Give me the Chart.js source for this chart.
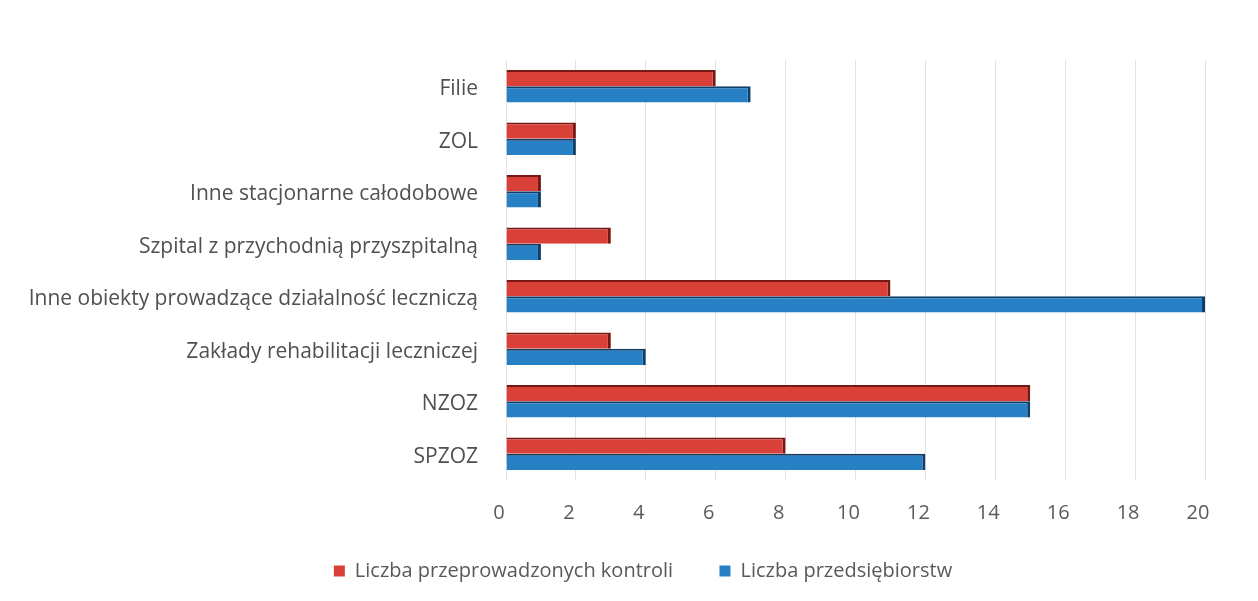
<!DOCTYPE html>
<html>
<head>
<meta charset="utf-8">
<script src="https://cdn.jsdelivr.net/npm/chart.js@4"></script>
<style>
  html, body { margin: 0; padding: 0; background: #fff; }
  #wrap { width: 1258px; height: 601px; }
</style>
</head>
<body>
<div id="wrap"><canvas id="kontrole"></canvas></div>
<script>
// categories top to bottom
categories = ['Filie', 'ZOL', 'Inne stacjonarne całodobowe', 'Szpital z przychodnią przyszpitalną',
  'Inne obiekty prowadzące działalność leczniczą', 'Zakłady rehabilitacji leczniczej', 'NZOZ', 'SPZOZ']
kontrole = [6, 2, 1, 3, 11, 3, 15, 8]
przedsiebiorstwa = [7, 2, 1, 1, 20, 4, 15, 12]
xTicks = [0, 2, 4, 6, 8, 10, 12, 14, 16, 18, 20]

var txtFont = { family: 'Open Sans', size: 20 }

chartdata = {
  labels: categories,
  datasets: [{
    label: 'Liczba przeprowadzonych kontroli',
    backgroundColor: 'rgb(217, 64, 56)',
    borderColor: 'rgb(120, 24, 20)',
    borderWidth: { top: 2, right: 3, left: 0, bottom: 0 },
    borderSkipped: false,
    data: kontrole
  }, {
    label: 'Liczba przedsiębiorstw',
    backgroundColor: 'rgb(40, 128, 196)',
    borderColor: 'rgb(16, 62, 104)',
    borderWidth: { top: 2, right: 3, left: 0, bottom: 0 },
    borderSkipped: false,
    data: przedsiebiorstwa
  }]
};

config = {
  type: 'bar',
  data: chartdata,
  options: {
    indexAxis: 'y',
    responsive: true,
    maintainAspectRatio: false,
    animation: false,
    categoryPercentage: 0.62,
    barPercentage: 1.0,
    layout: { padding: { top: 60, right: 53, bottom: 10, left: 81 } },
    scales: {
      x: {
        min: 0, max: 20,
        afterBuildTicks: function(scale) { scale.ticks = xTicks.map(v => ({ value: v })); },
        afterFit: function(scale) { scale.height = 71; },
        grid: { color: '#e2e2e2', drawTicks: false },
        border: { display: false },
        ticks: { padding: 21, labelOffset: -7, color: '#5a5a5a', font: txtFont }
      },
      y: {
        afterFit: function(scale) {
          scale.width = 425;
          // long labels reach past the left padding, so don't clip them to the axis box
          scale._computeLabelArea = function() {};
        },
        grid: { display: false, drawTicks: false },
        border: { display: false },
        ticks: { padding: 28, labelOffset: 3, color: '#505050', font: { family: 'Open Sans', size: 21 } }
      }
    },
    plugins: {
      legend: {
        position: 'bottom',
        labels: {
          boxWidth: 11, boxHeight: 11, padding: 10, color: '#595959',
          font: txtFont,
          generateLabels: function(chart) {
            // trailing spaces only widen the gap between the two items
            return chart.data.datasets.map((d, i) => ({
              text: i == 0 ? d.label + '       ' : d.label,
              fillStyle: d.backgroundColor, strokeStyle: d.backgroundColor,
              lineWidth: 0, datasetIndex: i, fontColor: '#595959'
            }));
          }
        }
      },
      tooltip: { enabled: false }
    }
  }
};

var myChart = new Chart(document.getElementById('kontrole'), config);
</script>
</body>
</html>
